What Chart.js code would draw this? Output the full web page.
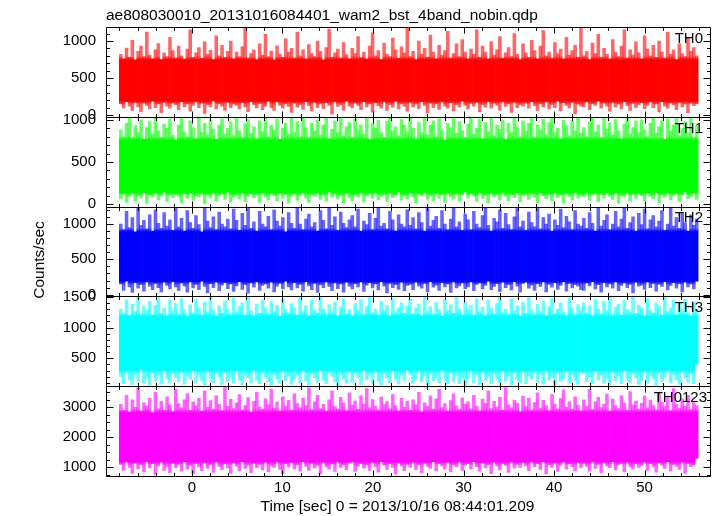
<!DOCTYPE html>
<html><head><meta charset="utf-8">
<script src="https://cdn.jsdelivr.net/npm/chart.js@4/dist/chart.umd.min.js"></script>
<style>html,body{margin:0;padding:0;background:#fff;}#wrap{position:relative;width:717px;height:516px;}</style>
</head><body><div id="wrap"><canvas id="c" width="717" height="516"></canvas></div>
<script>
const titleText = 'ae808030010_20131016084401_wam2_bst_4band_nobin.qdp';
const xTitle = 'Time [sec] 0 = 2013/10/16 08:44:01.209';
const yTitle = 'Counts/sec';
const seriesNames = ['TH0', 'TH1', 'TH2', 'TH3', 'TH0123'];
const colors = ['#ff0000', '#00ff00', '#0000ff', '#00ffff', '#ff00ff'];
const fringeColors = ['rgba(255,0,0,0.6)', 'rgba(0,255,0,0.6)', 'rgba(0,0,255,0.6)', 'rgba(0,255,255,0.6)', 'rgba(255,0,255,0.6)'];
const tStart = -7.85, tEnd = 55.75;
const xRange = [-9.48, 57.33];
const xTickValues = [0, 10, 20, 30, 40, 50];
const yRanges = [[-25, 1189], [-31, 1038], [-25, 1246], [47, 1505], [710, 3703]];
const yTickValues = [[0, 500, 1000], [0, 500, 1000], [0, 500, 1000], [500, 1000, 1500], [1000, 2000, 3000]];
const yMajor = [500, 500, 500, 500, 1000];
const yMinor = [100, 100, 100, 100, 250];
// dense (saturated) part of each band, counts/sec
const coreBand = [[190, 745], [140, 760], [190, 890], [310, 1180], [1190, 2820]];

// per-bin maxima / minima of each band (counts/sec)
const th0Hi = [820,760,905,780,1010,745,860,930,790,1120,810,760,880,965,750,840,790,1050,870,770,
930,800,755,890,1150,780,840,910,765,990,820,875,750,1070,800,940,780,860,1000,760,
850,790,920,1180,770,830,880,750,960,810,1090,790,865,745,935,820,780,1030,850,900,
770,1120,800,880,760,950,830,790,1000,860,745,910,1160,780,840,890,770,980,815,760,
900,830,1060,780,850,760,930,1110,800,870,750,970,820,790,1040,880,765,920,840,1170,
790,860,750,1000,820,900,780,1080,850,760,940,810,870,1130,770,830,960,790,1020,850,
760,890,820,1150,780,930,850,760,990,810,880,1060,770,840,910,790,1100,820,750,960,
840,780,1010,870,760,930,1140,800,850,770,980,830,890,760,1050,810,870,940,780,1180,
800,860,750,970,830,1090,780,900,820,760,1020,850,790,930,1150,770,880,810,990,840,
760,1070,890,800,940,780,1000,850,770,1120,820,880,750,960,830,790,1040,860,910,800];
const th0Lo = [150,90,180,120,60,170,110,40,160,130,80,185,100,150,30,170,120,90,160,140,
70,180,110,150,50,130,175,100,160,20,140,110,190,80,150,120,60,170,100,145,
130,80,165,110,45,180,140,95,155,70,120,185,100,60,175,130,90,150,115,35,
160,105,140,75,180,125,55,170,100,150,85,165,130,10,175,115,140,65,185,120,
95,160,130,70,180,110,150,40,165,125,90,175,60,140,105,185,80,150,120,50,
170,110,145,85,180,130,25,160,100,150,75,175,120,90,165,55,140,110,185,130,
80,155,120,170,45,140,105,180,90,160,130,65,175,115,150,35,170,100,140,120,
160,90,180,125,60,150,110,175,80,140,100,185,55,165,130,95,170,15,145,120,
110,175,70,150,130,185,90,160,120,50,170,105,145,80,180,125,60,155,100,140,
165,85,130,175,100,150,40,180,120,90,160,135,70,170,110,145,30,160,125,150];

const th1Hi = [880,800,960,1020,790,930,850,1000,770,910,980,830,1030,870,790,950,900,1010,820,760,
940,1025,860,800,990,910,780,1030,850,960,820,1000,890,770,940,1015,830,900,980,810,
1030,870,790,950,1005,840,920,780,990,860,1030,800,940,880,1010,770,900,960,830,1020,
850,980,800,1030,910,790,960,870,1000,820,940,1025,780,890,990,850,1030,810,920,970,
790,1010,880,940,830,1030,770,960,900,1000,850,790,980,1030,870,920,810,1005,940,860,
1020,900,780,970,850,1030,820,940,990,800,1015,880,760,960,910,1030,840,980,870,790,
950,1030,830,900,1010,780,970,860,1025,810,940,890,1000,770,960,850,1030,920,800,990,
870,960,1030,790,940,880,1010,820,970,1030,850,900,780,1000,930,810,990,870,1030,840,
910,800,980,1020,860,940,790,1030,890,960,820,1005,870,780,950,1030,830,910,990,850,
1000,880,800,960,1030,840,920,990,770,1015,870,940,1030,810,900,980,850,1025,790,930];
const th1Lo = [60,120,20,90,130,40,100,70,135,10,110,80,125,50,95,140,30,105,75,115,
90,15,120,65,135,45,100,80,125,5,110,70,130,35,95,120,55,140,25,85,
110,60,130,30,95,125,75,110,20,135,85,50,120,100,40,130,65,115,10,90,
125,45,100,135,70,20,115,90,130,55,105,35,140,80,120,60,95,15,130,75,
40,110,85,130,25,100,120,65,135,50,90,115,30,125,75,105,140,45,95,60,
130,80,15,115,95,135,55,100,40,125,70,110,20,130,85,60,120,35,105,140,
70,120,95,30,130,65,105,10,125,85,115,50,135,90,40,110,75,130,25,100,
115,55,125,80,20,135,95,60,110,40,130,75,105,15,120,90,50,135,70,100,
85,130,45,105,120,25,115,70,135,90,55,125,10,100,80,130,35,115,65,120,
100,40,125,90,60,135,20,110,80,130,50,95,120,30,105,140,65,85,125,55];

const th2Hi = [1000,920,1180,950,1090,890,1240,980,1050,930,1130,900,1200,1010,940,1160,970,1060,910,1220,
960,1080,900,1190,1020,940,1120,990,890,1230,1040,950,1100,920,1170,1000,960,1070,930,1210,
1050,910,1150,980,1240,940,1030,900,1180,1000,960,1110,920,1200,1040,970,1090,890,1160,1010,
940,1230,1000,920,1070,1140,960,1020,900,1190,1050,930,1240,980,1100,910,1170,1010,950,1060,
1120,960,1210,900,1040,990,1150,920,1080,1240,970,1010,930,1180,1060,900,1130,1000,960,1200,
980,1090,930,1160,1020,900,1240,970,1050,1110,940,1190,1000,920,1070,1230,960,1030,910,1140,
1060,920,1180,1000,950,1120,1240,980,900,1080,1030,1200,940,1150,990,920,1100,1220,960,1040,
910,1170,1020,960,1240,930,1090,1000,1140,900,1060,980,1210,950,1110,1030,920,1190,1000,970,
1080,940,1160,1010,900,1230,970,1050,1130,920,1000,1180,960,1070,1240,940,1020,1100,900,1150,
990,1210,930,1060,1120,960,1040,1190,910,1000,1240,970,1090,940,1160,1020,900,1130,980,1070];
const th2Lo = [150,60,190,110,30,170,90,140,50,180,120,70,160,100,40,175,130,80,185,110,
60,165,120,35,180,95,145,70,190,115,25,155,100,175,55,135,170,85,150,45,
125,185,75,140,20,165,105,180,60,130,150,90,175,40,120,160,80,190,110,65,
170,95,145,50,185,125,70,160,30,140,100,180,115,55,165,85,150,35,175,120,
80,155,110,180,45,135,170,95,150,65,185,120,25,160,100,140,75,175,55,130,
145,70,175,120,90,160,40,185,105,135,60,170,110,150,30,180,95,125,165,85,
110,180,55,145,165,80,130,190,70,115,155,45,175,100,140,65,185,120,35,160,
175,90,135,60,155,115,180,40,145,105,170,75,130,185,50,160,95,140,120,70,
60,165,125,185,80,140,35,170,110,150,90,180,55,130,165,100,145,25,175,120,
135,75,180,100,160,50,145,115,185,65,130,170,90,155,40,175,110,150,80,190];

const th3Hi = [1300,1220,1450,1190,1380,1260,1500,1210,1340,1280,1420,1200,1360,1480,1230,1310,1190,1440,1270,1390,
1210,1470,1290,1180,1370,1240,1460,1320,1200,1410,1260,1500,1280,1190,1350,1230,1430,1300,1210,1480,
1250,1340,1400,1200,1490,1270,1190,1380,1230,1450,1310,1210,1420,1260,1360,1180,1470,1290,1240,1390,
1320,1200,1480,1260,1350,1190,1440,1280,1230,1500,1300,1210,1370,1250,1410,1190,1330,1460,1220,1290,
1190,1390,1270,1450,1210,1340,1500,1240,1300,1200,1430,1280,1360,1190,1470,1250,1320,1400,1230,1350,
1460,1220,1310,1380,1190,1490,1260,1340,1210,1410,1290,1180,1450,1270,1370,1230,1500,1300,1200,1420,
1280,1360,1200,1470,1250,1330,1190,1440,1310,1220,1390,1490,1240,1300,1210,1460,1270,1350,1190,1410,
1230,1500,1290,1210,1380,1260,1430,1190,1340,1470,1220,1300,1400,1250,1190,1480,1320,1210,1370,1280,
1400,1240,1350,1190,1460,1300,1220,1420,1270,1500,1210,1330,1380,1200,1440,1290,1250,1490,1230,1360,
1310,1190,1470,1280,1230,1400,1350,1200,1500,1260,1320,1440,1210,1380,1290,1460,1240,1190,1420,1300];
const th3Lo = [200,90,280,150,70,240,130,310,100,180,60,260,140,220,80,300,170,110,250,190,
120,270,80,210,160,300,95,230,140,65,285,175,110,250,200,75,265,130,190,100,
290,150,70,220,180,110,305,140,85,260,200,120,60,240,165,95,280,135,210,75,
160,230,100,290,130,70,250,185,115,300,145,85,270,205,120,60,235,170,95,280,
110,260,190,75,300,150,220,90,275,130,65,245,180,105,290,160,80,230,140,310,
240,95,165,285,120,210,70,255,135,190,100,300,155,80,265,125,220,90,180,60,
175,300,110,230,70,270,140,195,85,250,160,105,290,130,215,65,260,150,100,280,
90,210,160,275,115,240,80,300,145,190,60,255,125,170,285,95,230,140,75,265,
255,120,200,85,290,150,230,100,175,65,270,135,210,90,305,160,110,245,180,70,
140,280,95,220,170,60,260,125,195,300,105,235,150,80,275,180,115,250,90,400];

const th0123Hi = [3100,2900,3400,2850,3250,3000,3650,2880,3150,3050,3300,2820,3500,2950,3200,2900,3350,3080,2860,3600,
3120,2980,3250,3450,2900,3180,3050,3300,2870,3550,3000,3220,2940,3380,3100,2890,3680,3030,3270,2960,
3150,3420,2910,3060,3320,2850,3200,3500,3010,2930,3280,3090,3600,2970,3170,2880,3350,3040,3230,2900,
3450,3120,2990,3300,3060,3650,2920,3180,3400,2960,3100,2870,3250,3550,3020,2940,3330,3150,2890,3480,
3070,3210,2930,3380,3110,3620,2980,3260,3030,2910,3340,3090,3190,2950,3420,3060,2880,3300,3000,3200,
2900,3250,3080,3500,2860,3150,3020,3380,2940,3280,3600,2990,3120,2870,3220,3450,3050,2920,3310,3100,
3180,2950,3400,3040,2880,3270,3130,3550,2960,3200,3010,3330,2900,3660,3090,2980,3240,3140,2860,3370,
3020,3300,2910,3160,3480,2970,3230,3060,2890,3420,3110,2950,3290,3580,3000,3180,2930,3350,3070,2880,
3250,3040,3600,2920,3180,3330,2990,3110,3440,2870,3270,3050,2960,3390,3150,2900,3520,3080,3210,2940,
3130,3370,2980,3240,3060,2910,3460,3170,3020,3310,2890,3620,3100,2970,3280,3040,3400,2930,3160,3050];
const th0123Lo = [1100,900,1180,1000,800,1150,950,1080,850,1190,980,1120,760,1050,1170,900,1020,820,1140,990,
1100,870,1190,940,1060,780,1130,1010,890,1160,960,1090,830,1180,1030,920,1110,980,800,1150,
1040,880,1190,960,1070,820,1140,990,1100,910,1170,850,1050,1000,1180,930,790,1120,1010,1160,
950,1080,870,1190,1030,900,1140,980,1060,780,1170,1020,940,1110,860,1180,1000,1090,920,1150,
1180,860,1040,1130,970,1090,900,1160,1010,840,1190,1070,930,1120,1000,770,1150,1050,890,1100,
1000,1170,920,1080,810,1140,1030,960,1190,880,1110,1050,940,1160,850,1090,1010,1180,900,1060,
1120,950,1190,1020,870,1150,990,1080,790,1170,1040,910,1130,1060,830,1180,970,1100,1000,1160,
1050,890,1170,1010,1120,930,1190,780,1090,1000,1150,860,1060,1180,940,1110,1020,880,1160,990,
1140,1030,870,1180,960,1100,820,1160,1050,990,1190,910,1080,1130,850,1170,1020,940,1110,1000,
1060,1180,900,1120,1010,840,1150,1070,960,1190,880,1100,1040,930,1170,800,1130,1020,1080,1300];

const seriesHi = [th0Hi, th1Hi, th2Hi, th3Hi, th0123Hi];
const seriesLo = [th0Lo, th1Lo, th2Lo, th3Lo, th0123Lo];
const FONT = '"Liberation Sans", Arial, Helvetica, sans-serif';
const yIds = ['y0', 'y1', 'y2', 'y3', 'y4'];

function toBins(hi, lo) {
  const step = (tEnd - tStart) / (hi.length - 1);
  return hi.map((h, i) => ({x: tStart + i * step, y: [lo[i], h]}));
}

// vertical fill: saturated in the dense core, lighter in the sparse spikes
const gradCache = {};
function bandFill(k) {
  return (c) => {
    const chart = c.chart;
    const ys = chart.scales[yIds[k]];
    if (!ys || !isFinite(ys.top) || ys.bottom <= ys.top) return colors[k];
    const key = k + ':' + ys.top + ':' + ys.bottom;
    if (gradCache[key]) return gradCache[key];
    const h = ys.bottom - ys.top;
    const oHi = Math.min(1, Math.max(0, (ys.getPixelForValue(coreBand[k][1]) - ys.top) / h));
    const oLo = Math.min(1, Math.max(0, (ys.getPixelForValue(coreBand[k][0]) - ys.top) / h));
    const g = chart.ctx.createLinearGradient(0, ys.top, 0, ys.bottom);
    g.addColorStop(0, fringeColors[k]);
    g.addColorStop(Math.max(0, oHi - 0.04), fringeColors[k]);
    g.addColorStop(oHi, colors[k]);
    g.addColorStop(oLo, colors[k]);
    g.addColorStop(Math.min(1, oLo + 0.04), fringeColors[k]);
    g.addColorStop(1, fringeColors[k]);
    gradCache[key] = g;
    return g;
  };
}

const datasets = seriesHi.map((hi, k) => ({
  label: seriesNames[k],
  data: toBins(hi, seriesLo[k]),
  xAxisID: 'x',
  yAxisID: yIds[k],
  backgroundColor: bandFill(k),
  borderWidth: 0,
  grouped: false,
  barPercentage: 1,
  categoryPercentage: 1
}));

const scales = {
  x: {
    type: 'linear', position: 'bottom', min: xRange[0], max: xRange[1], offset: false,
    grid: {display: false, drawTicks: false, offset: false}, border: {display: false},
    ticks: {color: '#000', padding: 3, maxRotation: 0, autoSkip: false,
            font: {family: FONT, size: 15}, callback: v => String(v)},
    afterBuildTicks: s => { s.ticks = xTickValues.map(v => ({value: v})); },
    afterFit: s => { s.height = 40; }
  }
};
yIds.forEach((id, k) => {
  scales[id] = {
    type: 'linear', position: 'left', stack: 'panels', stackWeight: 1, weight: 4 - k,
    min: yRanges[k][0], max: yRanges[k][1], beginAtZero: false,
    grid: {display: false, drawTicks: false}, border: {display: false},
    ticks: {color: '#000', padding: 10, autoSkip: false,
            font: {family: FONT, size: 15}, callback: v => String(v)},
    afterBuildTicks: s => { s.ticks = yTickValues[k].map(v => ({value: v})); },
    afterFit: s => { s.width = 106; }
  };
});

const panelPlugin = {
  id: 'qdpPanels',
  beforeDatasetDraw(chart, args) {
    const ds = chart.data.datasets[args.index];
    const ys = chart.scales[ds.yAxisID];
    const ctx = chart.ctx;
    ctx.save();
    ctx.beginPath();
    ctx.rect(chart.chartArea.left, ys.top, chart.chartArea.right - chart.chartArea.left, ys.bottom - ys.top);
    ctx.clip();
  },
  afterDatasetDraw(chart) { chart.ctx.restore(); },
  afterDraw(chart) {
    const ctx = chart.ctx;
    const xs = chart.scales.x;
    const l = Math.round(chart.chartArea.left) + 0.5;
    const r = Math.round(chart.chartArea.right) - 0.5;
    ctx.save();
    ctx.strokeStyle = '#000';
    ctx.lineWidth = 1;
    yIds.forEach((id, k) => {
      const s = chart.scales[id];
      const top = Math.round(s.top) + 0.5, bot = Math.round(s.bottom) + 0.5;
      ctx.beginPath();
      ctx.rect(l, top, r - l, bot - top);
      for (let v = Math.ceil(s.min / yMinor[k]) * yMinor[k]; v <= s.max; v += yMinor[k]) {
        const p = Math.round(s.getPixelForValue(v)) + 0.5;
        const len = (v % yMajor[k] === 0) ? 7 : 3.5;
        ctx.moveTo(l, p); ctx.lineTo(l + len, p);
        ctx.moveTo(r, p); ctx.lineTo(r - len, p);
      }
      for (let t = Math.ceil(xs.min / 2) * 2; t <= xs.max; t += 2) {
        const p = Math.round(xs.getPixelForValue(t)) + 0.5;
        const len = (t % 10 === 0) ? 6 : 3.5;
        ctx.moveTo(p, top); ctx.lineTo(p, top + len);
        ctx.moveTo(p, bot); ctx.lineTo(p, bot - len);
      }
      ctx.stroke();
      ctx.fillStyle = '#000';
      ctx.font = '15px ' + FONT;
      ctx.textAlign = 'right';
      ctx.textBaseline = 'alphabetic';
      ctx.fillText(seriesNames[k], k === 4 ? 707 : 703, s.top + 15.7);
    });
    ctx.fillStyle = '#000';
    ctx.font = '15.5px ' + FONT;
    ctx.textAlign = 'center';
    ctx.textBaseline = 'middle';
    ctx.fillText(xTitle, 397.5, 507);
    ctx.save();
    ctx.translate(40, 260);
    ctx.rotate(-Math.PI / 2);
    ctx.fillText(yTitle, 0, 0);
    ctx.restore();
    ctx.restore();
  }
};

new Chart(document.getElementById('c'), {
  type: 'bar',
  data: {datasets},
  options: {
    responsive: false,
    devicePixelRatio: 1,
    animation: false,
    layout: {padding: {left: 0, right: 6, top: 0, bottom: 0}},
    plugins: {
      legend: {display: false},
      tooltip: {enabled: false},
      title: {display: true, text: titleText, align: 'start', fullSize: false, color: '#000',
              font: {family: FONT, size: 15.5, weight: 'normal', lineHeight: 1.2},
              padding: {top: 6, bottom: 2.4}}
    },
    scales
  },
  plugins: [panelPlugin]
});
</script>
</body></html>
